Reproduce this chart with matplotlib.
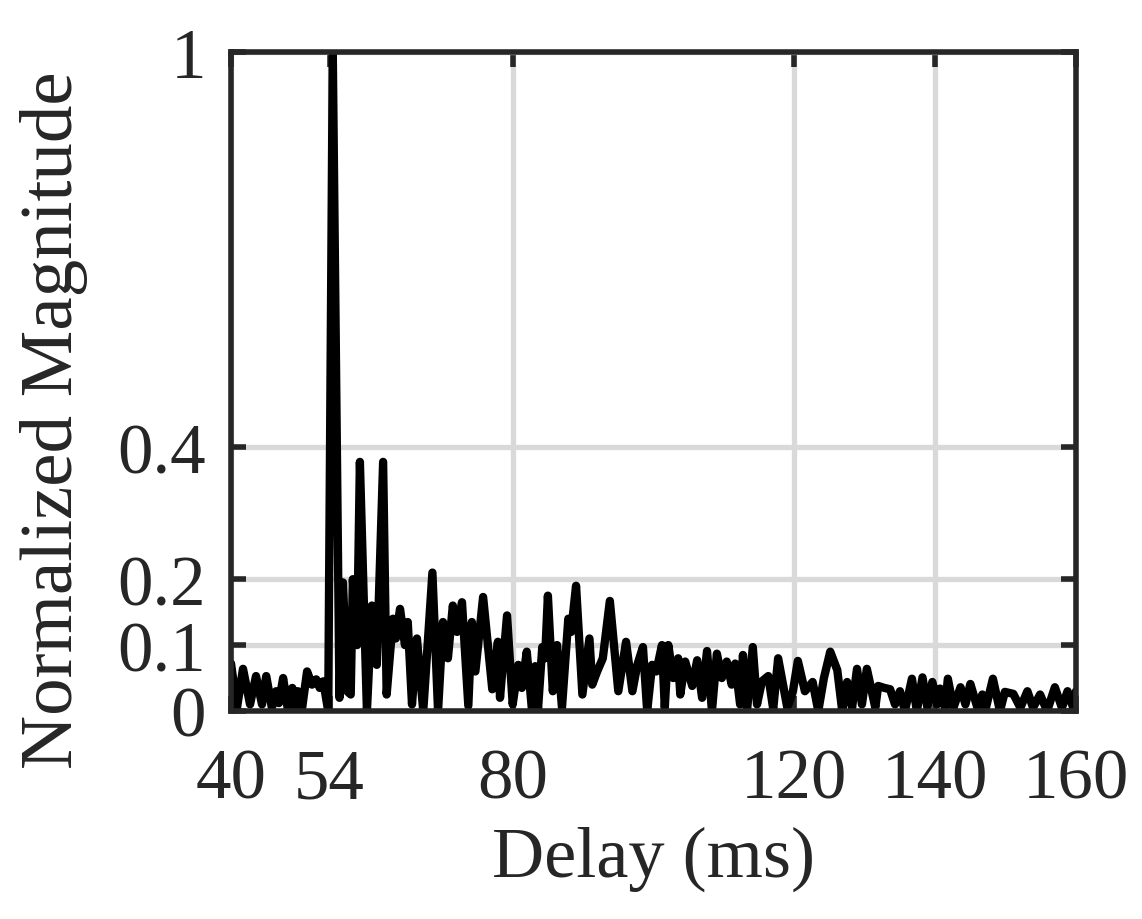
import matplotlib
matplotlib.use('Agg')
import matplotlib.pyplot as plt
import numpy as np

plt.rcParams['font.family'] = ['Liberation Serif', 'DejaVu Serif']

# delay (ms) and normalized magnitude
delay = [40.0, 40.85, 41.7, 42.7, 43.55, 44.4, 45.0, 45.8, 46.4, 46.8, 47.4, 48.1,
         48.7, 49.1, 49.5, 50.1, 50.8, 51.5, 52.1, 52.6, 53.1, 53.8, 54.45, 55.4,
         55.9, 56.5, 57.0, 57.3, 57.9, 58.3, 59.3, 60.0, 60.7, 61.6, 62.1, 63.0,
         63.4, 64.0, 64.7, 65.1, 65.7, 66.4, 67.3, 68.6, 69.4, 70.1, 70.8, 71.5,
         72.1, 72.8, 73.7, 74.2, 74.7, 75.8, 77.1, 77.9, 78.2, 79.2, 80.0, 80.8,
         81.3, 82.0, 82.75, 83.2, 83.6, 84.2, 84.6, 85.0, 85.7, 86.3, 87.0, 87.9,
         88.3, 89.0, 89.9, 90.9, 91.3, 92.0, 92.8, 93.8, 95.0, 96.1, 97.0, 97.7,
         98.5, 99.1, 99.8, 100.4, 101.2, 101.6, 102.1, 102.8, 103.5, 103.8, 104.5, 105.5,
         106.2, 106.9, 107.6, 108.3, 109.0, 109.7, 110.4, 111.1, 111.6, 112.3, 112.7, 113.3,
         114.1, 114.7, 115.4, 116.3, 117.0, 117.7, 118.4, 119.0, 119.8, 120.5, 121.5, 122.6,
         123.4, 124.2, 125.1, 126.1, 126.8, 127.5, 128.2, 128.9, 129.6, 130.3, 131.5, 131.9,
         132.8, 133.6, 134.3, 135.0, 135.7, 136.7, 137.4, 138.2, 138.9, 139.6, 140.3, 140.7,
         141.4, 141.8, 142.6, 143.6, 144.3, 145.0, 146.0, 146.7, 147.1, 148.2, 149.2, 149.9,
         151.1, 152.1, 153.1, 153.9, 154.9, 155.9, 157.0, 158.0, 158.8, 159.6, 160.0]
magnitude = [0.072, 0.005, 0.064, 0.01, 0.053, 0.01, 0.053, 0.005, 0.03, 0.012, 0.05, 0.0,
             0.035, 0.005, 0.03, 0.005, 0.06, 0.04, 0.048, 0.035, 0.045, 0.0, 1.0, 0.02,
             0.195, 0.03, 0.025, 0.2, 0.1, 0.378, 0.0, 0.16, 0.07, 0.378, 0.025, 0.14,
             0.11, 0.155, 0.1, 0.135, 0.01, 0.11, 0.0, 0.21, 0.0, 0.135, 0.08, 0.16,
             0.12, 0.165, 0.008, 0.135, 0.06, 0.173, 0.033, 0.105, 0.02, 0.145, 0.01, 0.07,
             0.035, 0.09, 0.0, 0.068, 0.003, 0.097, 0.08, 0.175, 0.03, 0.1, 0.005, 0.14,
             0.12, 0.19, 0.025, 0.11, 0.04, 0.06, 0.08, 0.167, 0.03, 0.105, 0.03, 0.07,
             0.097, 0.0, 0.07, 0.06, 0.1, 0.005, 0.1, 0.05, 0.08, 0.025, 0.075, 0.038,
             0.077, 0.02, 0.091, 0.0, 0.087, 0.05, 0.075, 0.04, 0.072, 0.01, 0.085, 0.003,
             0.097, 0.01, 0.045, 0.053, 0.003, 0.08, 0.04, 0.005, 0.03, 0.076, 0.03, 0.044,
             0.0, 0.05, 0.09, 0.062, 0.0, 0.044, 0.005, 0.064, 0.01, 0.064, 0.005, 0.038,
             0.035, 0.033, 0.01, 0.03, 0.0, 0.049, 0.0, 0.051, 0.005, 0.044, 0.01, 0.034,
             0.005, 0.049, 0.005, 0.036, 0.01, 0.041, 0.005, 0.025, 0.0, 0.049, 0.0, 0.029,
             0.026, 0.005, 0.03, 0.005, 0.025, 0.0, 0.036, 0.005, 0.03, 0.005, 0.03]

x_ticks = [40, 54, 80, 120, 140, 160]
y_ticks = [0, 0.1, 0.2, 0.4, 1]
y_tick_labels = ['0', '0.1', '0.2', '0.4', '1']

fig = plt.figure(figsize=(11.42, 9.2), dpi=100)
ax = fig.add_axes([0.2023, 0.2261, 0.7399, 0.7163])

ax.plot(delay, magnitude, color='black', linewidth=6.0, solid_joinstyle='round',
        solid_capstyle='round', zorder=3)

ax.set_xlim(40, 160)
ax.set_ylim(0, 1)
ax.set_xticks(x_ticks)
ax.set_yticks(y_ticks)
ax.set_yticklabels(y_tick_labels)
ax.grid(True, color='#d9d9d9', linewidth=3.8, zorder=0)
ax.set_axisbelow(True)

for s in ax.spines.values():
    s.set_linewidth(4)
    s.set_color('#262626')
    s.set_zorder(4)

ax.tick_params(direction='in', length=11, width=4, color='#262626',
               labelsize=51, labelcolor='#262626', top=True, right=True)
ax.tick_params(axis='x', pad=26)
ax.tick_params(axis='y', pad=18)

ax.set_xlabel('Delay (ms)', fontsize=52, color='#262626', labelpad=10)
ax.set_ylabel('Normalized Magnitude', fontsize=54, color='#262626')
ax.yaxis.set_label_coords(-0.169, 0.443)

fig.savefig('out.png', dpi=100)
